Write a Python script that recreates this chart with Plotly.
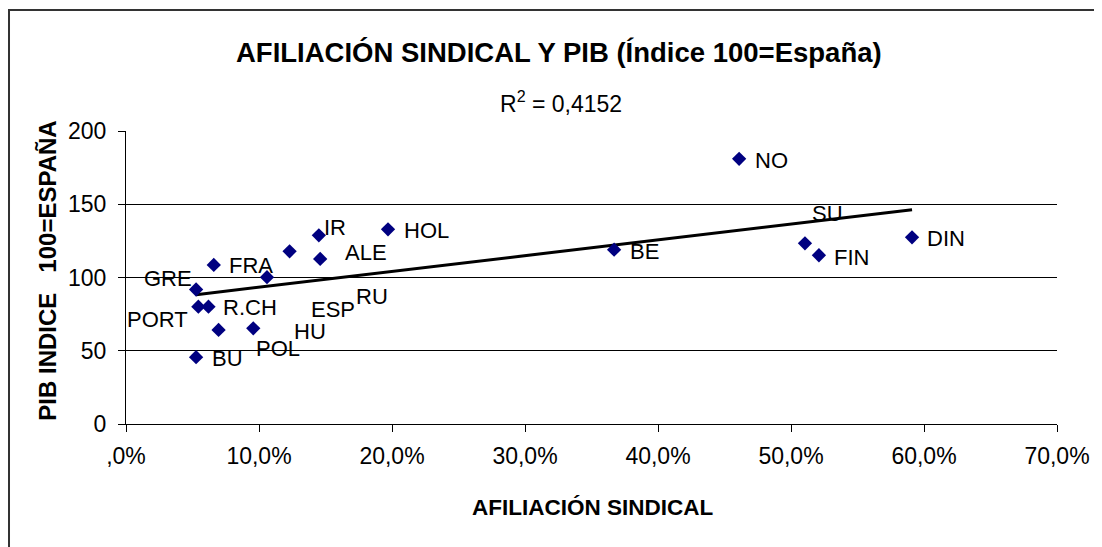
import numpy as np
import plotly.graph_objects as go

# Data
countries = ["GRE", "PORT", "R.CH", "POL", "HU", "BU", "FRA", "ESP", "RU", "IR",
             "ALE", "HOL", "BE", "NO", "SU", "FIN", "DIN"]
afiliacion = [0.0527, 0.0544, 0.062, 0.0696, 0.0957, 0.0527, 0.066, 0.106, 0.123, 0.145,
              0.146, 0.197, 0.367, 0.461, 0.5105, 0.521, 0.591]
pib = [91.8, 80.1, 80.1, 64.2, 65.3, 45.6, 108.6, 100.2, 117.9, 128.8,
       112.7, 132.9, 119.0, 181.0, 123.3, 115.2, 127.4]
# label offsets (pixels) from each point, as in the reference layout
label_dx = [-28, -41, 42, 59, 57, 31, 37, 66, 82, 16, 46, 38, 30, 32, 23, 33, 34]
label_dy = [-11, 13, 1, 19, 3, 1, 1, 32, 45, -8, -6, 1, 2, 2, -30, 2, 1]

x_ticks = [0.0, 0.1, 0.2, 0.3, 0.4, 0.5, 0.6, 0.7]
x_ticktext = [",0%", "10,0%", "20,0%", "30,0%", "40,0%", "50,0%", "60,0%", "70,0%"]
y_ticks = [0, 50, 100, 150, 200]

FONT = "Liberation Sans, Arial, sans-serif"

# The page body has an 8px margin, so the figure starts at page (8, 8).
OFF = 8
W, H = 1102 - OFF, 547 - OFF
L, R, T = 126 - OFF, 37, 131 - OFF
PW = 1065 - 126
PH = 424 - 131
B = H - T - PH


def px(xp):
    return (xp - 126) / PW


def py(yp):
    return (424 - yp) / PH


# linear trend line
slope, intercept = np.polyfit(afiliacion, pib, 1)
tx = [min(afiliacion), max(afiliacion)]
ty = [slope * v + intercept for v in tx]

fig = go.Figure()
fig.add_trace(go.Scatter(x=tx, y=ty, mode="lines",
                         line=dict(color="black", width=3), hoverinfo="skip"))
fig.add_trace(go.Scatter(x=afiliacion, y=pib, mode="markers",
                         marker=dict(symbol="diamond", size=11, color="#000080"),
                         text=countries))

annotations = []
for c, xv, yv, dx, dy in zip(countries, afiliacion, pib, label_dx, label_dy):
    annotations.append(dict(x=xv, y=yv, xref="x", yref="y", text=c, showarrow=False,
                            xshift=dx, yshift=-dy, xanchor="center", yanchor="middle",
                            font=dict(family=FONT, size=22, color="black")))

annotations += [
    dict(text="<b>AFILIACIÓN SINDICAL Y PIB (Índice 100=España)</b>", xref="paper", yref="paper",
         x=px(563), y=py(52), showarrow=False, xanchor="center", yanchor="middle",
         font=dict(family=FONT, size=27.5, color="black")),
    dict(text="R<sup>2</sup> = 0,4152", xref="paper", yref="paper",
         x=px(565), y=py(102), showarrow=False, xanchor="center", yanchor="middle",
         font=dict(family=FONT, size=23, color="black")),
    dict(text="<b>AFILIACIÓN SINDICAL</b>", xref="paper", yref="paper",
         x=px(597), y=py(507), showarrow=False, xanchor="center", yanchor="middle",
         font=dict(family=FONT, size=22.5, color="black")),
    dict(text="<b>PIB INDICE\u00a0\u00a0\u00a0100=ESPAÑA</b>", xref="paper", yref="paper",
         x=px(46), y=py(271), showarrow=False, textangle=-90,
         xanchor="center", yanchor="middle",
         font=dict(family=FONT, size=24, color="black")),
]

fig.update_layout(
    width=W, height=H,
    margin=dict(l=L, r=R, t=T, b=B),
    paper_bgcolor="white", plot_bgcolor="white",
    showlegend=False,
    font=dict(family=FONT, color="black"),
    annotations=annotations,
    shapes=[dict(type="rect", xref="paper", yref="paper",
                 x0=px(8), x1=px(1118),
                 y0=py(560), y1=py(10),
                 line=dict(color="#333333", width=2), layer="below")],
)
fig.update_xaxes(range=[0, 0.7], tickvals=x_ticks, ticktext=x_ticktext,
                 showgrid=False, zeroline=False, showline=True, linecolor="black", linewidth=1,
                 ticks="outside", ticklen=7, tickcolor="black", ticklabelstandoff=4,
                 tickfont=dict(family=FONT, size=23, color="black"))
fig.update_yaxes(range=[0, 200], tickvals=y_ticks,
                 showgrid=True, gridcolor="black", gridwidth=1, zeroline=False,
                 showline=True, linecolor="black", linewidth=1,
                 ticks="outside", ticklen=7, tickcolor="black", ticklabelstandoff=7,
                 tickfont=dict(family=FONT, size=23, color="black"))

fig.write_html("out.html")
